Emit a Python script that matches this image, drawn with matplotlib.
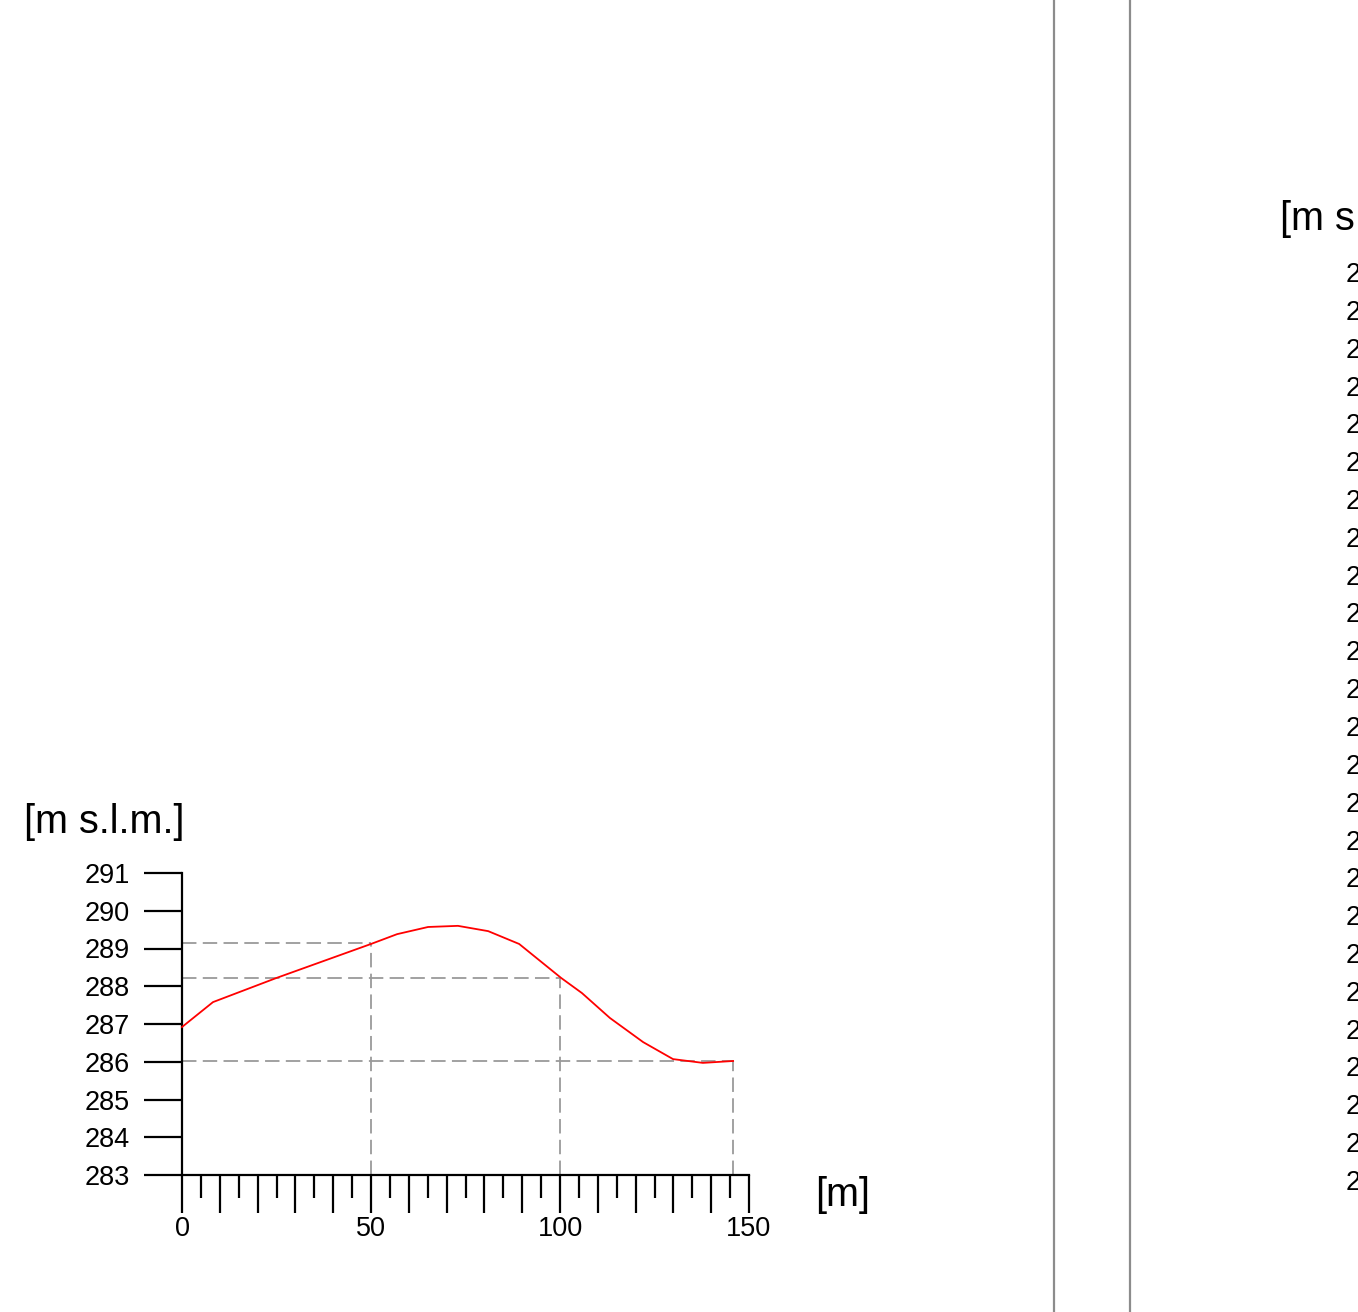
import matplotlib
matplotlib.use('Agg')
import matplotlib.pyplot as plt
from matplotlib.lines import Line2D
from matplotlib.ticker import FixedLocator

plt.rcParams['font.family'] = ['Liberation Sans', 'DejaVu Sans']

# profile data: distance [m] and elevation [m s.l.m.]
dist = [0, 8.2, 25, 50, 56.9, 65.1, 73.0, 81.0, 89.2, 100.3, 105.8, 113.2, 122.0, 129.9, 137.8, 145.8]
elev = [286.92, 287.58, 288.22, 289.12, 289.38, 289.57, 289.60, 289.46, 289.12, 288.22, 287.82,
        287.16, 286.52, 286.07, 285.97, 286.02]

# reference points (dashed guides)
ref_x = [50, 100, 145.8]
ref_y = [289.15, 288.23, 286.03]

yticks1 = list(range(283, 292))
xticks_major = [0, 50, 100, 150]
xticks_minor = [v for v in range(5, 150, 5) if v % 50 != 0]

# second profile (cut off at the page edge)
yticks2 = list(range(265, 290))

W, H = 1358, 1312
fig = plt.figure(figsize=(W / 100, H / 100), dpi=100)

def px_axes(x0, x1, ytop, ybot):
    return fig.add_axes([x0 / W, (H - ybot) / H, (x1 - x0) / W, (ybot - ytop) / H])

LW = 1.6
FS = 19.5

ax = px_axes(182, 749, 873, 1175)
ax.set_xlim(0, 150)
ax.set_ylim(283, 291)
for s in ['top', 'right']:
    ax.spines[s].set_visible(False)
for s in ['left', 'bottom']:
    ax.spines[s].set_linewidth(LW)
ax.patch.set_visible(False)

ax.plot(dist, elev, color='red', lw=1.3, clip_on=False, zorder=3)

gcol = '#9a9a9a'
for x, y in zip(ref_x, ref_y):
    ax.plot([0, x], [y, y], color=gcol, lw=1.3, dashes=(8, 3.5), zorder=2)
    ax.plot([x, x], [283, y], color=gcol, lw=1.3, dashes=(8, 3.5), zorder=2)

ax.set_yticks(yticks1)
ax.set_yticklabels([str(v) for v in yticks1])
ax.set_xticks(xticks_major)
ax.set_xticklabels([str(v) for v in xticks_major])
ax.xaxis.set_minor_locator(FixedLocator(xticks_minor))
ax.tick_params(axis='y', direction='out', length=27.4, width=LW, pad=10, labelsize=FS)
ax.tick_params(axis='x', which='major', direction='out', length=27.4, width=LW, pad=2, labelsize=FS)
ax.tick_params(axis='x', which='minor', direction='out', length=16.5, width=LW)
# every 10 m a longer tick
for v, t in zip(xticks_minor, ax.xaxis.get_minor_ticks()):
    if v % 10 == 0:
        t.tick1line.set_markersize(27.4)

ax.text(2 / 567, 1 + 51 / 302, '[m s.l.m.]', transform=ax.transAxes, ha='right', va='center',
        fontsize=28.5)
fig.text(843 / W, (H - 1195) / H, '[m]', ha='center', va='center', fontsize=28.5)

# second profile axis, mostly beyond the right edge
ax2 = px_axes(1443, 2000, 272, 1180)
ax2.set_ylim(yticks2[0], yticks2[-1])
ax2.set_xlim(0, 150)
for s in ['top', 'right', 'bottom']:
    ax2.spines[s].set_visible(False)
ax2.spines['left'].set_linewidth(LW)
ax2.patch.set_visible(False)
ax2.set_xticks([])
ax2.set_yticks(yticks2)
ax2.set_yticklabels([str(v) for v in yticks2])
ax2.tick_params(axis='y', direction='out', length=27.4, width=LW, pad=10, labelsize=FS)
ax2.text(-2 / 557, 1 + 53 / 908, '[m s.l.m.]', transform=ax2.transAxes, ha='right', va='center',
         fontsize=28.5)

# sheet frame lines
for xp in [1054, 1130]:
    fig.add_artist(Line2D([xp / W, xp / W], [0, 1], transform=fig.transFigure, color='#8c8c8c', lw=1.6))

fig.savefig('out.png', dpi=100)
